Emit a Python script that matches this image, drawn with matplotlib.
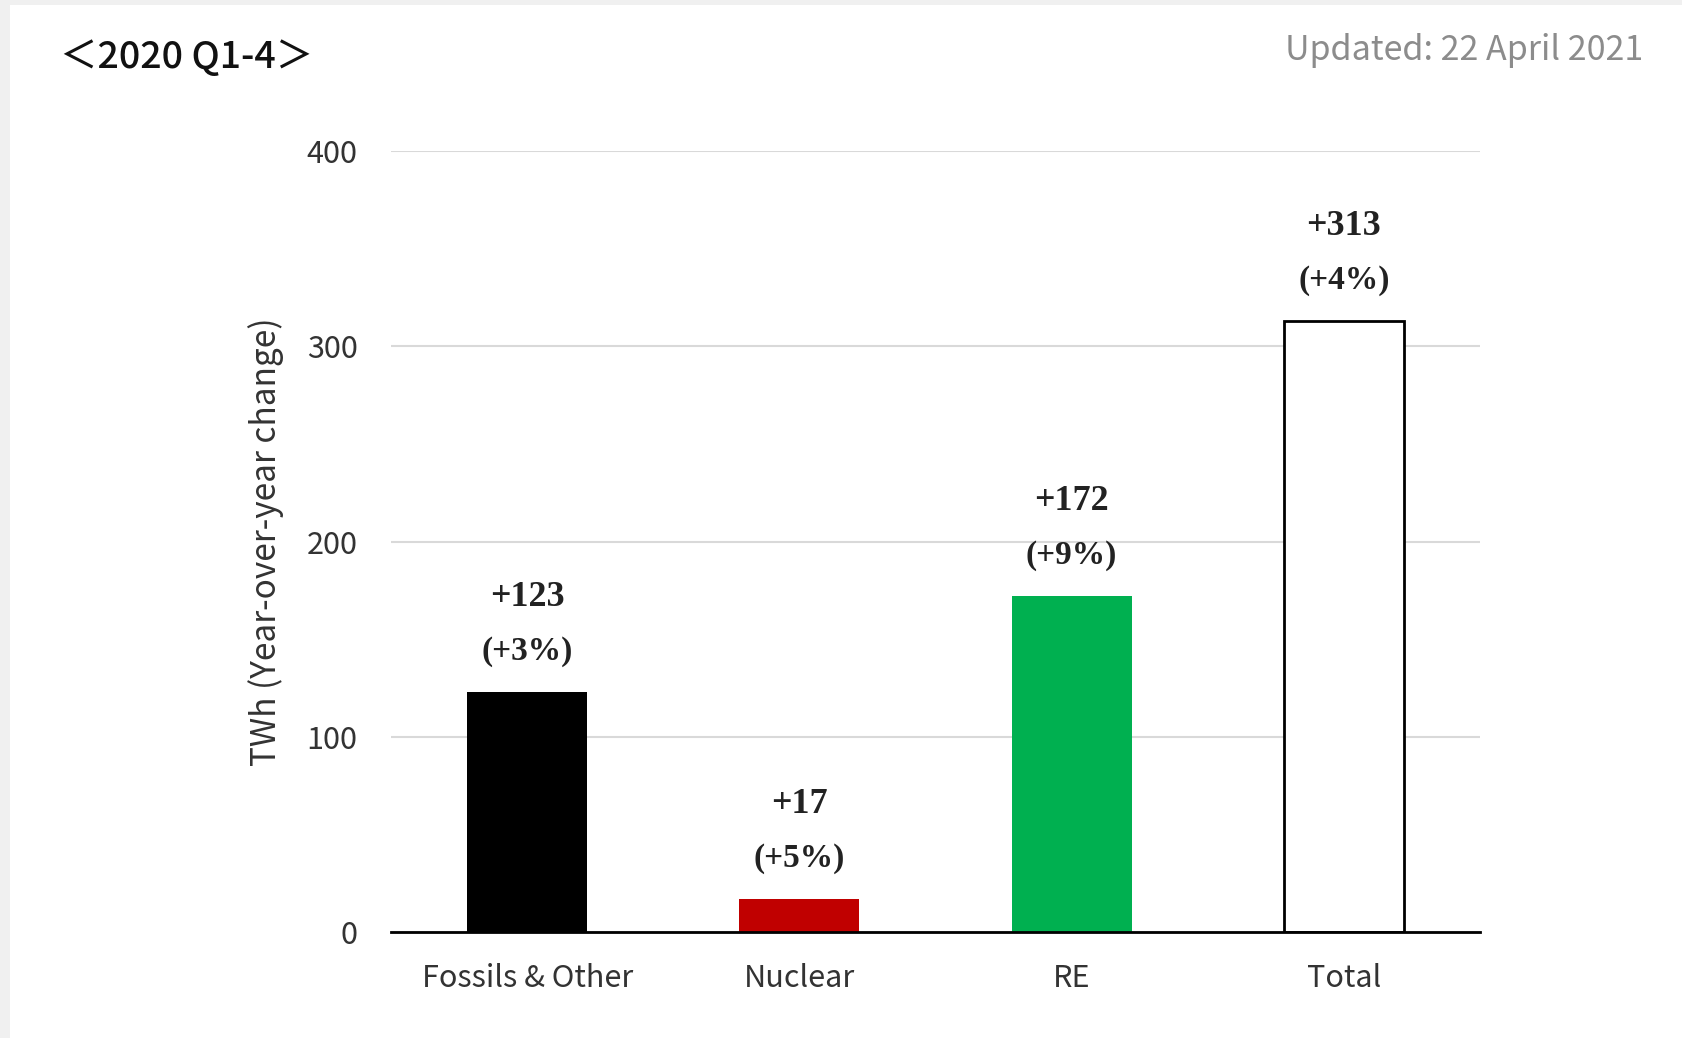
import matplotlib
matplotlib.use('Agg')
import matplotlib.pyplot as plt
from matplotlib.patches import Rectangle

plt.rcParams['font.family'] = ['Noto Sans CJK JP', 'DejaVu Sans']

# data
categories = ['Fossils & Other', 'Nuclear', 'RE', 'Total']
values = [123, 17, 172, 313]
pct_change = ['+3%', '+5%', '+9%', '+4%']
bar_colors = ['#000000', '#c00000', '#00b050', '#ffffff']
yticks = [0, 100, 200, 300, 400]

fig = plt.figure(figsize=(16.82, 10.38), dpi=100)
fig.patch.set_facecolor('white')
# light gray frame strips on the left and top
fig.patches.append(Rectangle((0, 0), 10 / 1682, 1, transform=fig.transFigure,
                             facecolor='#f0f0f0', edgecolor='none'))
fig.patches.append(Rectangle((0, 1 - 5 / 1038), 1, 5 / 1038, transform=fig.transFigure,
                             facecolor='#f0f0f0', edgecolor='none'))

ax = fig.add_axes([391 / 1682, 1 - 932 / 1038, (1480 - 391) / 1682, (932 - 151) / 1038])
ax.set_facecolor('white')

x = range(len(categories))
ax.bar(x, values, width=0.44, color=bar_colors, edgecolor=['none', 'none', 'none', 'black'],
       linewidth=2, zorder=3)

for i, (v, p) in enumerate(zip(values, pct_change)):
    ax.annotate('+%d' % v, (i, v), xytext=(0, 68), textcoords='offset points',
                ha='center', va='center', fontsize=26, family=['Liberation Serif'],
                fontweight='bold', color='#222222')
    ax.annotate('(%s)' % p, (i, v), xytext=(0, 29), textcoords='offset points',
                ha='center', va='center', fontsize=24, family=['Liberation Serif'],
                fontweight='bold', color='#222222')

ax.set_xlim(-0.5, 3.5)
ax.set_ylim(0, 400)
ax.set_yticks(yticks)
ax.set_xticks(list(x))
ax.set_xticklabels(categories, fontsize=22)
ax.tick_params(axis='both', length=0, labelcolor='#333333')
ax.tick_params(axis='y', pad=24, labelsize=22)
ax.tick_params(axis='x', pad=22)
ax.grid(axis='y', color='#d9d9d9', linewidth=1.5, zorder=0)
ax.set_axisbelow(True)
for s in ['top', 'right', 'left']:
    ax.spines[s].set_visible(False)
ax.spines['bottom'].set_linewidth(2)
ax.spines['bottom'].set_color('black')
ax.spines['bottom'].set_zorder(4)

ax.set_ylabel('TWh (Year-over-year change)', fontsize=24, color='#333333', labelpad=16)

fig.text(60 / 1682, 1 - 57 / 1038, '＜2020 Q1-4＞', fontsize=27, ha='left', va='center',
         color='#111111', fontweight='medium')
fig.text(1643 / 1682, 1 - 51 / 1038, 'Updated: 22 April 2021', fontsize=24.5, ha='right',
         va='center', color='#8c8c8c')

fig.savefig('out.png', dpi=100, facecolor=fig.get_facecolor())
